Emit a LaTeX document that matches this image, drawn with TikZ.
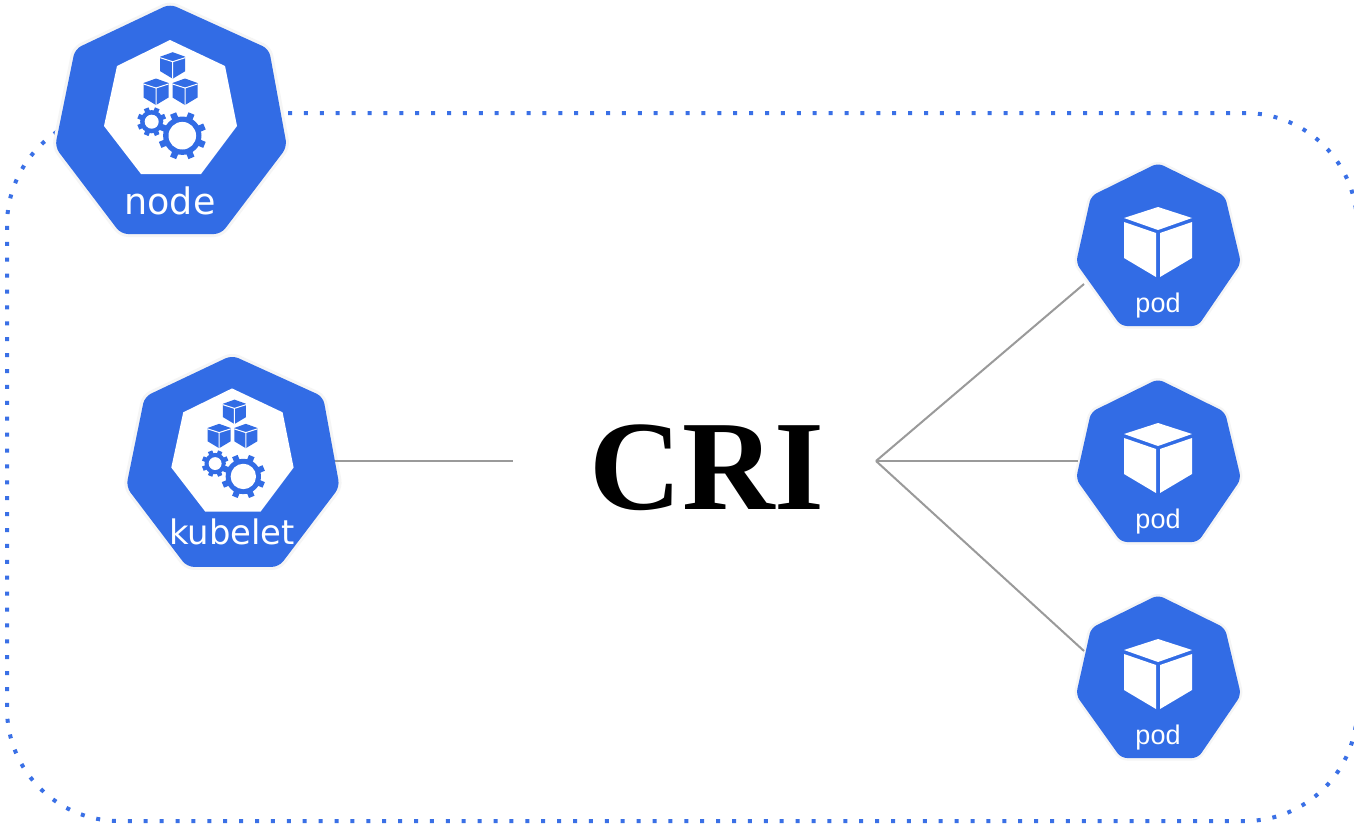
\documentclass[tikz,border=0pt]{standalone}
\usepackage{fontspec}
\setmainfont{Liberation Serif}
\newfontfamily\djv{DejaVu Sans}
\newfontfamily\lib{Liberation Sans}
\definecolor{kblue}{HTML}{326CE5}
\definecolor{kdot}{HTML}{3A70E6}
\definecolor{khalo}{HTML}{F5F5F5}
\definecolor{kline}{HTML}{9A9A9A}
\tikzset{
  x=1pt,y=-1pt,
  halo/.style={draw=khalo,line width=6pt,fill=white,rounded corners=7pt,line join=round},
  body/.style={fill=kblue,rounded corners=7pt},
  link/.style={draw=kline,line width=2pt},
  dotborder/.style={draw=kdot,line width=4pt,dash pattern=on 4pt off 11.9pt},
  label/.style={inner sep=0pt,text=white,anchor=base},
}
\newcommand{\heptapath}{(0,-116) -- (99,-71) -- (117,27) -- (51,114) -- (-49,114) -- (-115,27) -- (-95,-71) -- cycle}
\newcommand{\podpath}{(0,-100) -- (67,-67) -- (83,0) -- (40,63) -- (-37,63) -- (-82,0) -- (-67,-67) -- cycle}
\newcommand{\cubeicon}[2]{%
  \fill[kblue] (#1-12.5,#2-9) -- (#1,#2-13.5) -- (#1+12.5,#2-9) -- (#1+12.5,#2+5.5) -- (#1,#2+13) -- (#1-12.5,#2+5.5) -- cycle;
  \draw[white,line width=1pt] (#1-12.5,#2-8) -- (#1,#2-4) -- (#1+12.5,#2-8) (#1,#2-4) -- (#1,#2+13);
}
\newcommand{\gearicon}[5]{% x y outer-radius hole-radius tooth-width
  \fill[kblue] (#1,#2) circle[radius=#3*0.8];
  \foreach \a in {0,45,...,315}
    \draw[kblue,line width=#5,line cap=butt] (#1,#2) -- ++(\a+22.5:{#3});
  \fill[white] (#1,#2) circle[radius=#4];
}
\newcommand{\nodeicon}[6]{% x y scale label fontsize baseline
  \begin{scope}[shift={(#1,#2)},scale=#3]
    \path[halo] \heptapath;
    \path[body] \heptapath;
    \fill[white] (0,-80) -- (55,-54) -- (67,6) -- (31,54) -- (-29,54) -- (-66,6) -- (-53,-54) -- cycle;
    \cubeicon{2.7}{-54.3}
    \cubeicon{-14}{-28}
    \cubeicon{15}{-28}
    \gearicon{-18.3}{1.7}{14.5}{7}{#3*5pt}
    \fill[white] (12.3,15.7) circle[radius=23];
    \gearicon{12.3}{15.7}{24}{13.8}{#3*6.5pt}
  \end{scope}
  \node[label,font=\djv\fontsize{#5}{#5}\selectfont] at (#1,#6) {#4};
}
\newcommand{\podicon}[2]{%
  \begin{scope}[shift={(#1,#2)}]
    \path[draw=khalo,line width=5pt,fill=white,rounded corners=6pt,line join=round] \podpath;
    \path[fill=kblue,rounded corners=6pt] \podpath;
    \fill[white] (0,-56) -- (34,-45) -- (0,-33) -- (-34,-45) -- cycle;
    \fill[white] (-34,-41) -- (-2,-30) -- (-2,14) -- (-34,-5) -- cycle;
    \fill[white] (34,-41) -- (2,-30) -- (2,14) -- (34,-5) -- cycle;
  \end{scope}
  \node[label,font=\lib\fontsize{27}{27}\selectfont] at (#1,#2+49) {pod};
}
\begin{document}
\begin{tikzpicture}
\useasboundingbox (0,0) rectangle (1354,825);
\fill[white] (0,0) rectangle (1354,825);
\begin{scope}
\clip (0,0) rectangle (1354,825);
% dotted node boundary, open past the right edge of the picture
\draw[dotborder] (1357,225) .. controls (1357,163.3) and (1307,113) .. (1245,113) -- (119,113)
  .. controls (57.3,113) and (7,163.3) .. (7,225) -- (7,709)
  .. controls (7,770.7) and (57.3,821) .. (119,821) -- (1245,821)
  .. controls (1307,821) and (1357,770.7) .. (1357,709);
\end{scope}
% icons
\nodeicon{170}{120}{1}{node}{36.5}{214}
\nodeicon{232}{462}{0.92}{kubelet}{33.8}{544}
\podicon{1158}{263}
\podicon{1158}{479}
\podicon{1158}{695}
% anchors for the connectors
\coordinate (kubelet) at (335,461);
\coordinate (crileft) at (513,461);
\coordinate (criright) at (876,461);
\coordinate (podA) at (1084,284);
\coordinate (podB) at (1078,461);
\coordinate (podC) at (1084,651);
\node[inner sep=0pt,anchor=base,font=\bfseries\fontsize{128}{128}\selectfont] (cri) at (707,509) {CRI};
\draw[link] (kubelet) -- (crileft);
\draw[link] (criright) -- (podA);
\draw[link] (criright) -- (podB);
\draw[link] (criright) -- (podC);
\end{tikzpicture}
\end{document}
